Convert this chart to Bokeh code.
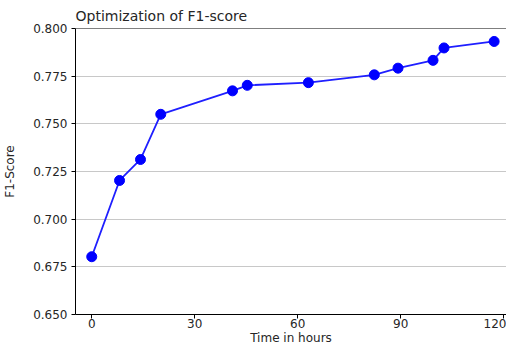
from bokeh.plotting import figure
from bokeh.models import Range1d, FixedTicker, NumeralTickFormatter, Span
from bokeh.embed import file_html
from bokeh.resources import INLINE

hours = [0, 8.1, 14.2, 20.1, 41.0, 45.3, 63.1, 82.3, 89.2, 99.4, 102.6, 117.2]
f1 = [0.6803, 0.7203, 0.7313, 0.7550, 0.7673, 0.7702, 0.7716, 0.7757, 0.7792, 0.7833, 0.7898, 0.7932]
x_ticks = [0, 30, 60, 90, 120]
y_ticks = [0.650, 0.675, 0.700, 0.725, 0.750, 0.775, 0.800]

FONT = "DejaVu Sans"

p = figure(width=506, height=347, output_backend="svg", toolbar_location=None,
           x_range=Range1d(-4.73, 120.8), y_range=Range1d(0.650, 0.800),
           title="Optimization of F1-score",
           min_border=0, min_border_left=67, min_border_right=0, min_border_top=21, min_border_bottom=29)

p.title.text_font = FONT
p.title.text_font_size = "14px"
p.title.text_font_style = "normal"
p.title.text_color = "#262626"
p.title.align = "left"

p.outline_line_color = None
p.background_fill_color = "white"
p.border_fill_color = "white"

p.xgrid.grid_line_color = None
p.ygrid.grid_line_color = "#c8c8c8"
p.ygrid.grid_line_width = 1

for ax in (p.xaxis[0], p.yaxis[0]):
    ax.axis_line_color = "black"
    ax.axis_line_width = 1
    ax.major_tick_line_color = "black"
    ax.major_tick_out = 4
    ax.major_tick_in = 0
    ax.minor_tick_line_color = None
    ax.major_label_text_font = FONT
    ax.major_label_text_font_size = "12px"
    ax.major_label_text_color = "#262626"
    ax.axis_label_text_font = FONT
    ax.axis_label_text_font_size = "12px"
    ax.axis_label_text_font_style = "normal"
    ax.axis_label_text_color = "#262626"

p.xaxis.ticker = FixedTicker(ticks=x_ticks)
p.yaxis.ticker = FixedTicker(ticks=y_ticks)
p.yaxis.formatter = NumeralTickFormatter(format="0.000")
p.xaxis.axis_label = "Time in hours"
p.yaxis.axis_label = "F1-Score"
p.xaxis.major_label_standoff = 0
p.yaxis.major_label_standoff = 4
p.xaxis.axis_label_standoff = 0
p.yaxis.axis_label_standoff = 13

p.add_layout(Span(location=0.800, dimension="width", line_color="black", line_width=1))

p.line(hours, f1, line_color="#1f1fff", line_width=1.8)
p.scatter(hours, f1, size=10, fill_color="#0000ff", line_color="#0000ff")

open("out.html", "w").write(file_html(p, INLINE))
